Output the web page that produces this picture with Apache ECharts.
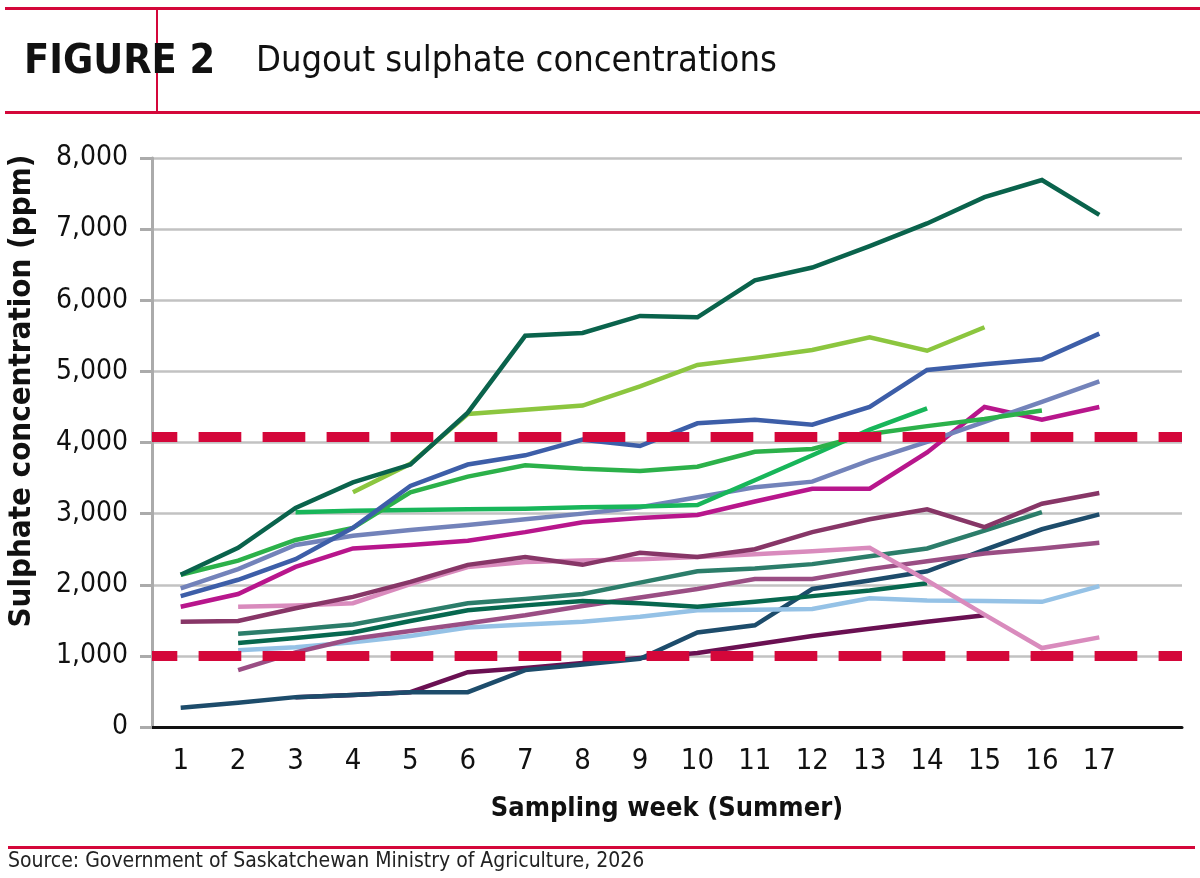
<!DOCTYPE html>
<html>
<head>
<meta charset="utf-8">
<title>Dugout sulphate concentrations</title>
<script src="https://cdn.jsdelivr.net/npm/echarts@6/dist/echarts.min.js"></script>
<style>
  html, body { margin: 0; padding: 0; background: #fff; }
  #chart { width: 1200px; height: 878px; }
</style>
</head>
<body>
<div id="chart"></div>
<script>
// weeks on the x axis
const weeks = [1, 2, 3, 4, 5, 6, 7, 8, 9, 10, 11, 12, 13, 14, 15, 16, 17];
const yTicks = [0, 1000, 2000, 3000, 4000, 5000, 6000, 7000, 8000];

// one array per dugout, '-' where it was not sampled
const dugoutA = [2140, 2520, 3080, 3440, 3690, 4420, 5500, 5540, 5780, 5760, 6280, 6460, 6760, 7080, 7450, 7690, 7200];
const dugoutB = ['-', '-', '-', 3300, 3700, 4400, 4460, 4520, 4790, 5090, 5190, 5300, 5480, 5290, 5620, '-', '-'];
const dugoutC = [1840, 2070, 2360, 2800, 3390, 3690, 3820, 4040, 3950, 4270, 4320, 4250, 4500, 5020, 5100, 5170, 5530];
const dugoutD = [2140, 2340, 2630, 2800, 3300, 3520, 3680, 3630, 3600, 3660, 3870, 3910, 4120, 4230, 4330, 4450, '-'];
const dugoutE = ['-', '-', 3020, 3040, 3050, 3060, 3070, 3090, 3100, 3120, 3470, 3820, 4180, 4480, '-', '-', '-'];
const dugoutF = [1950, 2220, 2560, 2690, 2770, 2840, 2920, 3000, 3090, 3230, 3370, 3450, 3750, 4010, 4290, 4570, 4860];
const dugoutG = [1690, 1870, 2250, 2510, 2560, 2620, 2740, 2880, 2940, 2980, 3170, 3350, 3350, 3860, 4500, 4320, 4500];
const dugoutH = [1480, 1490, 1670, 1830, 2040, 2280, 2390, 2280, 2450, 2390, 2500, 2740, 2920, 3060, 2810, 3140, 3290];
const dugoutI = ['-', 1690, 1710, 1740, 2010, 2250, 2320, 2340, 2360, 2390, 2430, 2470, 2520, 2060, 1580, 1110, 1260];
const dugoutJ = ['-', 1310, 1370, 1440, 1590, 1740, 1800, 1870, 2030, 2190, 2230, 2290, 2400, 2510, 2760, 3020, '-'];
const dugoutK = ['-', 1180, 1250, 1330, 1490, 1640, 1710, 1770, 1740, 1690, 1760, 1840, 1920, 2020, '-', '-', '-'];
const dugoutL = ['-', 800, 1050, 1240, 1350, 1460, 1570, 1700, 1820, 1940, 2080, 2080, 2220, 2330, 2440, 2510, 2590];
const dugoutM = ['-', 1080, 1120, 1190, 1280, 1400, 1440, 1480, 1550, 1640, 1650, 1660, 1810, 1780, 1770, 1760, 1980];
const dugoutN = [270, 340, 420, 450, 490, 490, 800, 880, 960, 1330, 1430, 1940, 2060, 2190, 2490, 2780, 2990];
const dugoutO = ['-', '-', 420, 450, 490, 770, 830, 900, 970, 1040, 1160, 1280, 1380, 1480, 1570, '-', '-'];

// guideline levels (ppm)
const upperLimit = 4080;
const lowerLimit = 1000;

const dugouts = [
  { values: dugoutO, color: '#6a1052' },
  { values: dugoutN, color: '#1d4c6b' },
  { values: dugoutM, color: '#95c2e6' },
  { values: dugoutL, color: '#9a4e84' },
  { values: dugoutK, color: '#07684f' },
  { values: dugoutJ, color: '#2c7d6a' },
  { values: dugoutI, color: '#d98bbd' },
  { values: dugoutH, color: '#873667' },
  { values: dugoutG, color: '#b8168c' },
  { values: dugoutF, color: '#7383ba' },
  { values: dugoutE, color: '#18b65a' },
  { values: dugoutD, color: '#2cb14a' },
  { values: dugoutC, color: '#3d5ea8' },
  { values: dugoutB, color: '#8cc63f' },
  { values: dugoutA, color: '#0a634c' },
];

const RED = '#d4073a';
const NARROW = "'Liberation Sans Narrow', 'DejaVu Sans Condensed', 'Roboto', sans-serif";

const chart = echarts.init(document.getElementById('chart'), null, { renderer: 'canvas' });

const series = dugouts.map((d) => ({
  type: 'line',
  data: weeks.map((w, i) => [w, d.values[i]]),
  showSymbol: false,
  symbol: 'none',
  smooth: false,
  lineStyle: { color: d.color, width: 4.5, cap: 'butt', join: 'miter' },
  silent: true,
  z: 3,
}));

series.push({
  type: 'line',
  data: [],
  silent: true,
  markLine: {
    silent: true,
    symbol: 'none',
    label: { show: false },
    z: 10,
    lineStyle: {
      color: RED,
      width: 10,
      type: [42.7, 21.3],
      dashOffset: 17.4,
      cap: 'butt',
    },
    data: [{ yAxis: upperLimit }, { yAxis: lowerLimit }],
  },
  z: 10,
});

chart.setOption({
  animation: false,
  backgroundColor: '#fff',
  grid: { left: 152, right: 18, top: 158, bottom: 151, containLabel: false, outerBoundsMode: 'none' },
  graphic: [
    { type: 'rect', shape: { x: 5, y: 7, width: 1195, height: 3 }, style: { fill: RED } },
    { type: 'rect', shape: { x: 5, y: 111, width: 1195, height: 3 }, style: { fill: RED } },
    { type: 'rect', shape: { x: 156, y: 9, width: 2, height: 103 }, style: { fill: RED } },
    {
      type: 'text', x: 24, y: 62,
      style: { text: 'FIGURE 2', font: "bold 41px " + NARROW, fill: '#111', textVerticalAlign: 'middle' },
    },
    {
      type: 'text', x: 256, y: 62,
      style: { text: 'Dugout sulphate concentrations', font: "36px " + NARROW, fill: '#111', textVerticalAlign: 'middle' },
    },
    {
      type: 'text', x: 22, y: 391, rotation: Math.PI / 2,
      style: { text: 'Sulphate concentration (ppm)', font: "bold 31px " + NARROW, fill: '#111', textAlign: 'center', textVerticalAlign: 'middle' },
    },
    { type: 'rect', shape: { x: 8, y: 846, width: 1187, height: 3 }, style: { fill: RED } },
    {
      type: 'text', x: 8, y: 862,
      style: { text: 'Source: Government of Saskatchewan Ministry of Agriculture, 2026', font: "21px " + NARROW, fill: '#222', textVerticalAlign: 'middle' },
    },
  ],
  xAxis: {
    type: 'value',
    min: 0.5,
    max: 18.44,
    name: 'Sampling week (Summer)',
    nameLocation: 'middle',
    nameGap: 68,
    nameTextStyle: { fontFamily: NARROW, fontWeight: 'bold', fontSize: 27, color: '#111' },
    axisLine: { onZero: true, lineStyle: { color: '#111', width: 3 } },
    axisTick: { show: false },
    splitLine: { show: false },
    axisLabel: {
      customValues: weeks,
      margin: 20,
      fontFamily: NARROW,
      fontSize: 29,
      color: '#111',
    },
  },
  yAxis: {
    type: 'value',
    min: 0,
    max: 8000,
    interval: 1000,
    axisLine: { show: true, lineStyle: { color: '#ababab', width: 3 } },
    axisTick: { show: true, length: 12, lineStyle: { color: '#ababab', width: 3 } },
    splitLine: { lineStyle: { color: '#c2c2c2', width: 2.5 } },
    axisLabel: {
      customValues: yTicks,
      margin: 24,
      fontFamily: NARROW,
      fontSize: 28,
      color: '#111',
      formatter: (v) => v.toLocaleString('en-US'),
    },
  },
  series,
});
</script>
</body>
</html>
